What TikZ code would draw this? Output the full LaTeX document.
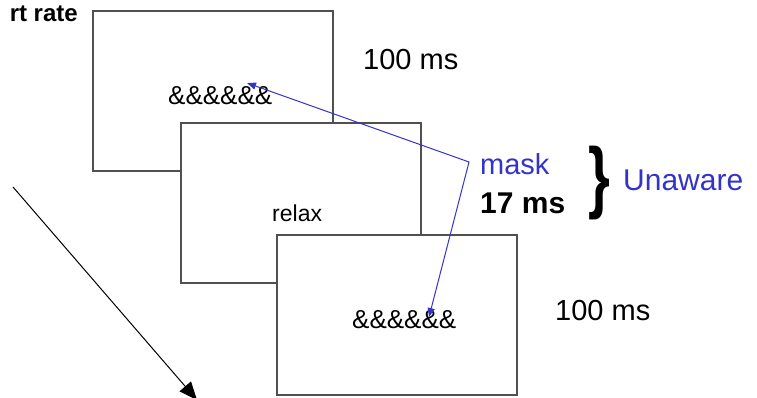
\documentclass[tikz,border=0pt]{standalone}
\usepackage{fontspec}
\setmainfont{Liberation Sans}
\usetikzlibrary{arrows.meta}
\definecolor{slideblue}{RGB}{51,51,204}
\definecolor{framegray}{RGB}{80,80,80}
\tikzset{
  screen/.style={draw=framegray, line width=2pt, fill=white,
    minimum width=240pt, minimum height=160pt, inner sep=0pt},
  lbl/.style={inner sep=0pt, anchor=base west},
}
\begin{document}
\begin{tikzpicture}[x=1pt, y=-1pt]
  \useasboundingbox (0,0) rectangle (757,398);

  % stacked stimulus screens
  \node[screen] (s1) at (213,91) {};
  \node[screen] (s2) at (301,203) {};
  \node[screen] (s3) at (397,315) {};

  % screen contents
  \node[lbl, font=\fontsize{26}{30}\selectfont] (amp1) at (168,105) {\&\&\&\&\&\&};
  \node[lbl, font=\fontsize{23}{27}\selectfont] (relax) at (272,222) {relax};
  \node[lbl, font=\fontsize{26}{30}\selectfont] (amp3) at (352,328) {\&\&\&\&\&\&};

  % durations
  \node[lbl, font=\fontsize{29}{34}\selectfont] (t1) at (363,70) {100 ms};
  \node[lbl, font=\fontsize{29}{34}\selectfont] (t3) at (555,320) {100 ms};
  \node[lbl, font=\fontsize{29}{34}\selectfont, text=slideblue] (mask) at (480,175) {mask};
  \node[lbl, font=\fontsize{30}{34}\selectfont\bfseries] (t2) at (480,213) {17 ms};

  % brace and awareness label
  \node[inner sep=0pt, font=\fontsize{66}{70}\selectfont\bfseries] (brace) at (599,183)
    {\scalebox{0.85}[1.2]{\}}};
  \node[lbl, font=\fontsize{30}{34}\selectfont, text=slideblue] (unaware) at (623,190) {Unaware};

  % heading, cut at the left edge
  \node[inner sep=0pt, anchor=base east, font=\fontsize{24}{28}\selectfont\bfseries] (head) at (78,22) {rt rate};

  % mask links to both letter strings
  \coordinate (bend) at (469,162);
  \coordinate (tipA) at (247,83);
  \coordinate (tipB) at (429,317);
  \draw[slideblue, line width=1pt, {Triangle[length=9pt,width=7pt]}-{Triangle[length=9pt,width=7pt]}]
    (tipA) -- (bend) -- (tipB);

  % time axis
  \coordinate (tstart) at (13,187);
  \coordinate (tend) at (197,400);
  \draw[line width=1pt, -{Triangle[length=18pt,width=15pt]}] (tstart) -- (tend);
\end{tikzpicture}
\end{document}
